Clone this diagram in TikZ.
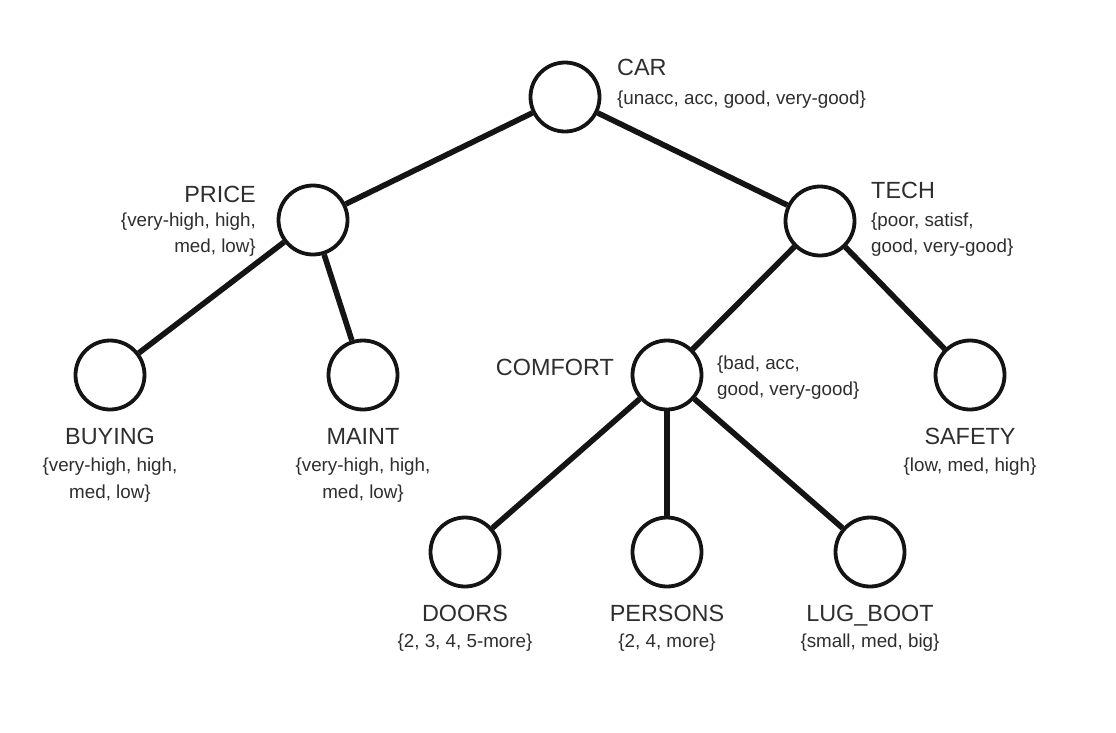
\documentclass[tikz,border=0pt]{standalone}
\usepackage{fontspec}
\setmainfont{Liberation Sans}
\begin{document}
\begin{tikzpicture}[x=1pt,y=-1pt,
  attr/.style={circle,draw=black!92,line width=3.8pt,minimum size=69pt,inner sep=0pt,fill=white},
  link/.style={line width=5.6pt,draw=black!92},
  ttl/.style={inner sep=0pt,font=\fontsize{23.4}{28}\selectfont,text=black!82},
  vals/.style={inner sep=0pt,font=\fontsize{18.8}{26}\selectfont,text=black!82}]
\useasboundingbox (0,0) rectangle (1116,732);
\fill[white] (0,0) rectangle (1116,732);
% nodes
\node[attr] (car) at (565,97) {};
\node[attr] (price) at (313,220) {};
\node[attr] (tech) at (820,221) {};
\node[attr] (buying) at (110,375) {};
\node[attr] (maint) at (363,375) {};
\node[attr] (comfort) at (667,375) {};
\node[attr] (safety) at (970,375) {};
\node[attr] (doors) at (465,552) {};
\node[attr] (persons) at (667,552) {};
\node[attr] (lugboot) at (870,552) {};
% connectors
\draw[link] (car) -- (price);
\draw[link] (car) -- (tech);
\draw[link] (price) -- (buying);
\draw[link] (price) -- (maint);
\draw[link] (tech) -- (comfort);
\draw[link] (tech) -- (safety);
\draw[link] (comfort) -- (doors);
\draw[link] (comfort) -- (persons);
\draw[link] (comfort) -- (lugboot);
% labels
\node[ttl,anchor=base west] (carT) at (617,75) {CAR};
\node[vals,anchor=base west] (carV) at (617,104) {\{unacc, acc, good, very-good\}};

\node[ttl,anchor=base east] (priceT) at (256,202) {PRICE};
\node[vals,anchor=base east] (priceV1) at (256,226) {\{very-high, high,};
\node[vals,anchor=base east] (priceV2) at (256,252) {med, low\}};

\node[ttl,anchor=base west] (techT) at (871,198) {TECH};
\node[vals,anchor=base west] (techV1) at (871,226) {\{poor, satisf,};
\node[vals,anchor=base west] (techV2) at (871,252) {good, very-good\}};

\node[ttl,anchor=base east] (comfortT) at (614,375) {COMFORT};
\node[vals,anchor=base west] (comfortV1) at (717,369) {\{bad, acc,};
\node[vals,anchor=base west] (comfortV2) at (717,395) {good, very-good\}};

\node[ttl,anchor=base] (buyingT) at (110,444) {BUYING};
\node[vals,anchor=base] (buyingV1) at (110,471) {\{very-high, high,};
\node[vals,anchor=base] (buyingV2) at (110,498) {med, low\}};

\node[ttl,anchor=base] (maintT) at (363,444) {MAINT};
\node[vals,anchor=base] (maintV1) at (363,471) {\{very-high, high,};
\node[vals,anchor=base] (maintV2) at (363,498) {med, low\}};

\node[ttl,anchor=base] (safetyT) at (970,444) {SAFETY};
\node[vals,anchor=base] (safetyV) at (970,471) {\{low, med, high\}};

\node[ttl,anchor=base] (doorsT) at (465,621) {DOORS};
\node[vals,anchor=base] (doorsV) at (465,647) {\{2, 3, 4, 5-more\}};

\node[ttl,anchor=base] (personsT) at (667,621) {PERSONS};
\node[vals,anchor=base] (personsV) at (667,647) {\{2, 4, more\}};

\node[ttl,anchor=base] (lugbootT) at (870,621) {LUG\_BOOT};
\node[vals,anchor=base] (lugbootV) at (870,647) {\{small, med, big\}};
\end{tikzpicture}
\end{document}
